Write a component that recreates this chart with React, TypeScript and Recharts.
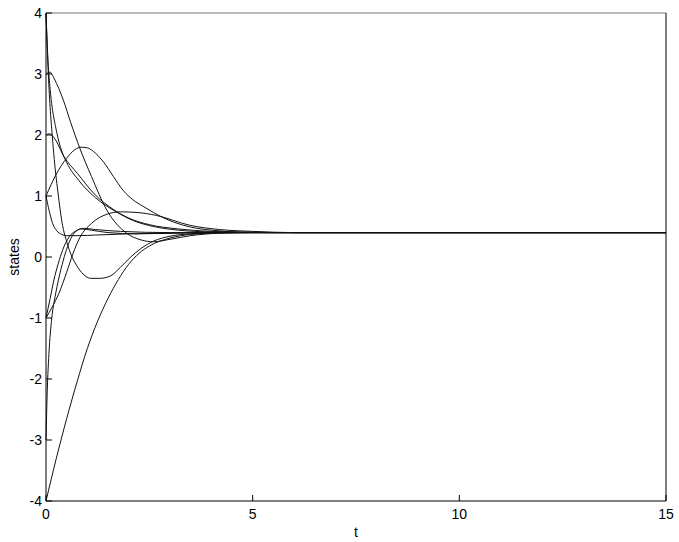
import React from "react";
import { LineChart, Line, XAxis, YAxis } from "recharts";

// state trajectories (t, value)
const tA = [0, 0.05, 0.1, 0.15, 0.2, 0.3, 0.4, 0.48, 0.6, 0.76, 0.9, 1.08, 1.3, 1.56, 1.8, 2.05, 2.3, 2.6, 3, 3.5, 4, 5, 7, 15];
const yA = [4, 3.1, 2.45, 2.0, 1.6, 1.0, 0.52, 0.3, 0.05, -0.16, -0.28, -0.35, -0.35, -0.31, -0.17, 0, 0.14, 0.26, 0.34, 0.38, 0.395, 0.4, 0.4, 0.4];

const tB = [0, 0.05, 0.1, 0.15, 0.23, 0.35, 0.5, 0.8, 1.2, 1.7, 2.1, 2.6, 3.2, 4, 5, 7, 15];
const yB = [4, 3.2, 2.75, 2.45, 2.14, 1.8, 1.55, 1.25, 0.97, 0.74, 0.6, 0.5, 0.44, 0.41, 0.4, 0.4, 0.4];

const tC = [0, 0.1, 0.2, 0.42, 0.6, 0.82, 1.1, 1.47, 1.95, 2.3, 2.6, 3, 3.5, 4.2, 5, 7, 15];
const yC = [3, 3.03, 2.92, 2.57, 2.2, 1.78, 1.32, 0.77, 0.39, 0.28, 0.25, 0.29, 0.35, 0.39, 0.4, 0.4, 0.4];

const tD = [0, 0.08, 0.2, 0.44, 0.76, 1.16, 1.65, 2.03, 2.5, 3.2, 4, 5.5, 7, 15];
const yD = [2, 2.02, 1.95, 1.64, 1.37, 1.04, 0.77, 0.63, 0.53, 0.46, 0.42, 0.4, 0.4, 0.4];

const tE = [0, 0.25, 0.5, 0.7, 0.85, 1.0, 1.2, 1.4, 1.63, 1.87, 2.1, 2.35, 2.6, 2.85, 3.1, 3.5, 4, 4.7, 6, 15];
const yE = [1, 1.36, 1.62, 1.76, 1.8, 1.79, 1.7, 1.55, 1.32, 1.09, 0.94, 0.83, 0.73, 0.64, 0.57, 0.49, 0.44, 0.41, 0.4, 0.4];

const tF = [0, 0.08, 0.16, 0.26, 0.38, 0.5, 0.8, 1.2, 2, 3, 4, 15];
const yF = [1, 0.75, 0.55, 0.43, 0.37, 0.35, 0.35, 0.36, 0.38, 0.39, 0.4, 0.4];

const tG = [0, 0.1, 0.19, 0.3, 0.4, 0.56, 0.76, 0.9, 1.2, 1.8, 3, 15];
const yG = [-1, -0.68, -0.38, -0.1, 0.11, 0.33, 0.44, 0.47, 0.45, 0.42, 0.4, 0.4];

const tH = [0, 0.15, 0.31, 0.5, 0.65, 0.82, 1.1, 1.47, 1.8, 2.2, 2.68, 3.48, 4.2, 5, 6, 15];
const yH = [-1, -0.82, -0.6, -0.25, 0.05, 0.32, 0.55, 0.7, 0.74, 0.73, 0.68, 0.52, 0.45, 0.42, 0.4, 0.4];

const tI = [0, 0.03, 0.07, 0.14, 0.22, 0.3, 0.42, 0.52, 0.68, 0.85, 1.1, 1.5, 2.2, 3, 4, 15];
const yI = [-3, -2.2, -1.6, -1.0, -0.65, -0.38, -0.05, 0.17, 0.39, 0.46, 0.44, 0.4, 0.38, 0.39, 0.4, 0.4];

const tJ = [0, 0.25, 0.5, 0.75, 1.0, 1.25, 1.5, 1.75, 2.0, 2.25, 2.5, 3, 3.5, 4.5, 15];
const yJ = [-4, -3.3, -2.65, -2.05, -1.5, -1.05, -0.68, -0.37, -0.12, 0.06, 0.18, 0.31, 0.37, 0.4, 0.4];

const xTicks = [0, 5, 10, 15];
const yTicks = [-4, -3, -2, -1, 0, 1, 2, 3, 4];

const series = [
  [tA, yA], [tB, yB], [tC, yC], [tD, yD], [tE, yE],
  [tF, yF], [tG, yG], [tH, yH], [tI, yI], [tJ, yJ],
].map(([ts, ys]) => ts.map((t, i) => ({ t, y: ys[i] })));

const font = { fontFamily: "'Liberation Sans', Arial, sans-serif", fontSize: 14, fill: "#000" };

const BottomTick = ({ x, y, payload }: any) => (
  <g>
    <line x1={x} y1={y} x2={x} y2={y - 6} stroke="#000" />
    <text x={x} y={y + 18} textAnchor="middle" {...font}>{payload.value}</text>
  </g>
);
const TopTick = ({ x, y }: any) => <line x1={x} y1={y} x2={x} y2={y + 6} stroke="#000" />;
const LeftTick = ({ x, y, payload }: any) => (
  <g>
    <line x1={x} y1={y} x2={x + 6} y2={y} stroke="#000" />
    <text x={x - 4} y={y + 5} textAnchor="end" {...font}>{payload.value}</text>
  </g>
);
const RightTick = ({ x, y }: any) => <line x1={x} y1={y} x2={x - 6} y2={y} stroke="#000" />;

const StatesLabel = ({ viewBox }: any) => {
  const x = viewBox.x + 14;
  const y = viewBox.y + viewBox.height / 2;
  return (
    <text x={x} y={y} transform={`rotate(-90, ${x}, ${y})`} textAnchor="middle" dominantBaseline="central" {...font}>
      states
    </text>
  );
};

export default function App() {
  return (
    <div style={{ width: 679, height: 542, overflow: "hidden" }}>
      <style>{"body{margin:0}"}</style>
      <LineChart width={679} height={542} margin={{ top: 12, right: 12, bottom: 1, left: 0 }}>
        <XAxis
          dataKey="t"
          type="number"
          domain={[0, 15]}
          ticks={xTicks}
          height={40}
          tickSize={0}
          tickMargin={0}
          tickLine={false}
          tick={<BottomTick />}
          axisLine={{ stroke: "#000" }}
          allowDuplicatedCategory={false}
          label={{ value: "t", position: "insideBottom", offset: 4, style: font }}
        />
        <XAxis
          xAxisId="top"
          orientation="top"
          type="number"
          domain={[0, 15]}
          ticks={xTicks}
          height={1}
          tickSize={0}
          tickMargin={0}
          tickLine={false}
          tick={<TopTick />}
          axisLine={{ stroke: "#777" }}
        />
        <YAxis
          type="number"
          domain={[-4, 4]}
          ticks={yTicks}
          width={46}
          tickSize={0}
          tickMargin={0}
          tickLine={false}
          tick={<LeftTick />}
          axisLine={{ stroke: "#000" }}
          label={<StatesLabel />}
        />
        <YAxis
          yAxisId="right"
          orientation="right"
          type="number"
          domain={[-4, 4]}
          ticks={yTicks}
          width={1}
          tickSize={0}
          tickMargin={0}
          tickLine={false}
          tick={<RightTick />}
          axisLine={{ stroke: "#000" }}
        />
        {series.map((d, i) => (
          <Line
            key={i}
            data={d}
            dataKey="y"
            type="monotone"
            stroke="#111"
            strokeWidth={1}
            dot={false}
            isAnimationActive={false}
          />
        ))}
      </LineChart>
    </div>
  );
}
